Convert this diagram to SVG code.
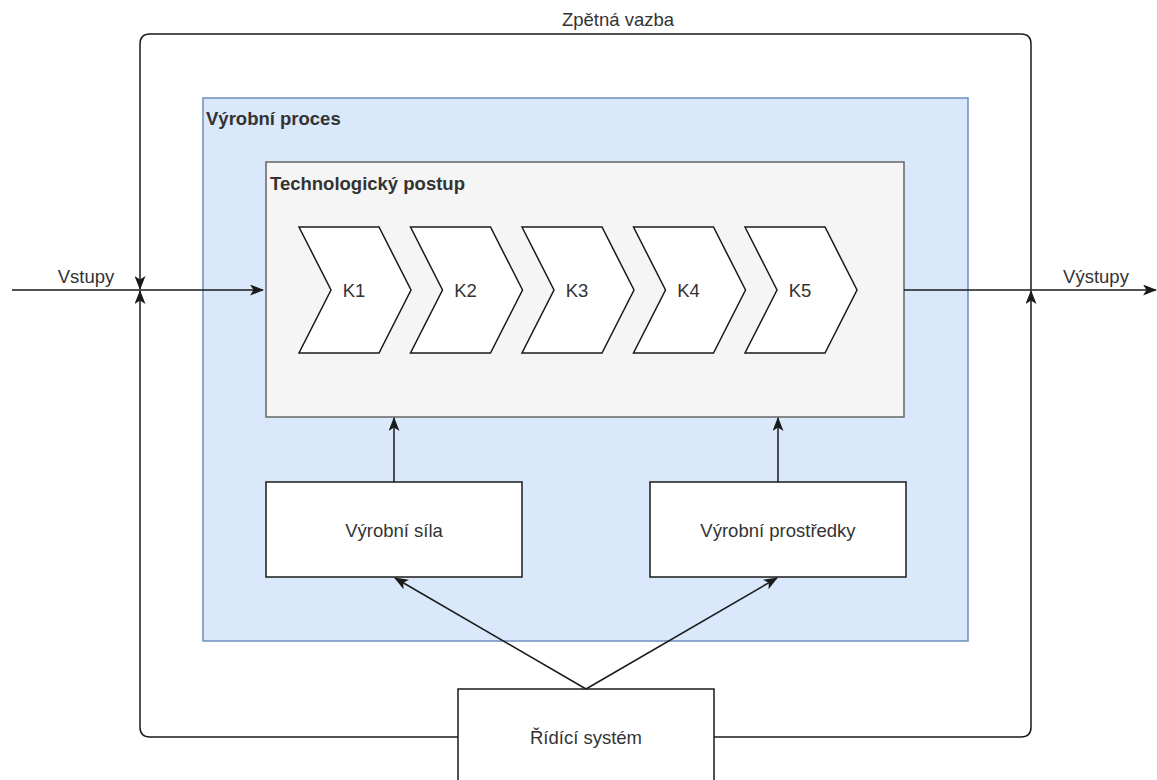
<svg xmlns="http://www.w3.org/2000/svg" width="1157" height="780" viewBox="0 0 1157 780">
  <style>
    text { font-family: "Liberation Sans", Arial, Helvetica, sans-serif; font-size: 18.5px; fill: #333333; }
    .c { text-anchor: middle; dominant-baseline: central; }
    .b { font-weight: bold; }
    .box { fill: #ffffff; stroke: #1a1a1a; stroke-width: 1.5; }
    .step { fill: #ffffff; stroke: #1a1a1a; stroke-width: 1.5; stroke-linejoin: miter; }
    .edge { fill: none; stroke: #1a1a1a; stroke-width: 1.5; }
    .arr { marker-end: url(#arrow); }
  </style>
  <defs>
    <marker id="arrow" viewBox="0 0 14 11" refX="13" refY="5.5" markerWidth="14" markerHeight="11" markerUnits="userSpaceOnUse" orient="auto">
      <path d="M0,0 L14,5.5 L0,11 L3.5,5.5 Z" fill="#1a1a1a"/>
    </marker>
  </defs>

  <rect width="1157" height="780" fill="#ffffff"/>

  <!-- Production process container -->
  <g id="vyrobni-proces">
    <rect x="203" y="98" width="765" height="543" fill="#dae8fc" stroke="#6c8ebf" stroke-width="1.5"/>
    <text x="206" y="125" class="b" fill="#1a1a1a">Výrobní proces</text>
  </g>

  <!-- Technology procedure container -->
  <g id="technologicky-postup">
    <rect x="266" y="162" width="638" height="255" fill="#f5f5f5" stroke="#666666" stroke-width="1.5"/>
    <text x="270" y="190" class="b">Technologický postup</text>
  </g>

  <!-- Process steps -->
  <g id="k1">
    <path class="step" d="M299,227 H379 L411,290 L379,353 H299 L331,290 Z"/>
    <text x="354" y="290" class="c">K1</text>
  </g>
  <g id="k2">
    <path class="step" d="M410.5,227 H490.5 L522.5,290 L490.5,353 H410.5 L442.5,290 Z"/>
    <text x="465.5" y="290" class="c">K2</text>
  </g>
  <g id="k3">
    <path class="step" d="M522,227 H602 L634,290 L602,353 H522 L554,290 Z"/>
    <text x="577" y="290" class="c">K3</text>
  </g>
  <g id="k4">
    <path class="step" d="M633.5,227 H713.5 L745.5,290 L713.5,353 H633.5 L665.5,290 Z"/>
    <text x="688.5" y="290" class="c">K4</text>
  </g>
  <g id="k5">
    <path class="step" d="M745,227 H825 L857,290 L825,353 H745 L777,290 Z"/>
    <text x="800" y="290" class="c">K5</text>
  </g>

  <!-- Resources -->
  <g id="vyrobni-sila">
    <rect class="box" x="266" y="482" width="256" height="95"/>
    <text x="394" y="530" class="c">Výrobní síla</text>
  </g>
  <g id="vyrobni-prostredky">
    <rect class="box" x="650" y="482" width="256" height="95"/>
    <text x="778" y="530" class="c">Výrobní prostředky</text>
  </g>

  <!-- Control system -->
  <g id="ridici-system">
    <rect class="box" x="458" y="689" width="256" height="96"/>
    <text x="586" y="737" class="c">Řídící systém</text>
  </g>

  <!-- Connectors -->
  <g id="connectors">
    <path class="edge arr" d="M12,290 H263"/>
    <path class="edge arr" d="M904,290 H1156"/>
    <path class="edge arr" d="M1031,290 V44 Q1031,34 1021,34 H150 Q140,34 140,44 V289"/>
    <path class="edge arr" d="M458,737 H150 Q140,737 140,727 V291"/>
    <path class="edge arr" d="M714,737 H1021 Q1031,737 1031,727 V291"/>
    <path class="edge arr" d="M394,482 V418"/>
    <path class="edge arr" d="M778,482 V418"/>
    <path class="edge arr" d="M586,689 L395,578"/>
    <path class="edge arr" d="M586,689 L777,578"/>
  </g>

  <!-- Edge labels -->
  <g id="edge-labels">
    <text x="86" y="276" class="c">Vstupy</text>
    <text x="1096" y="276" class="c">Výstupy</text>
    <text x="618" y="19" class="c">Zpětná vazba</text>
  </g>
</svg>
